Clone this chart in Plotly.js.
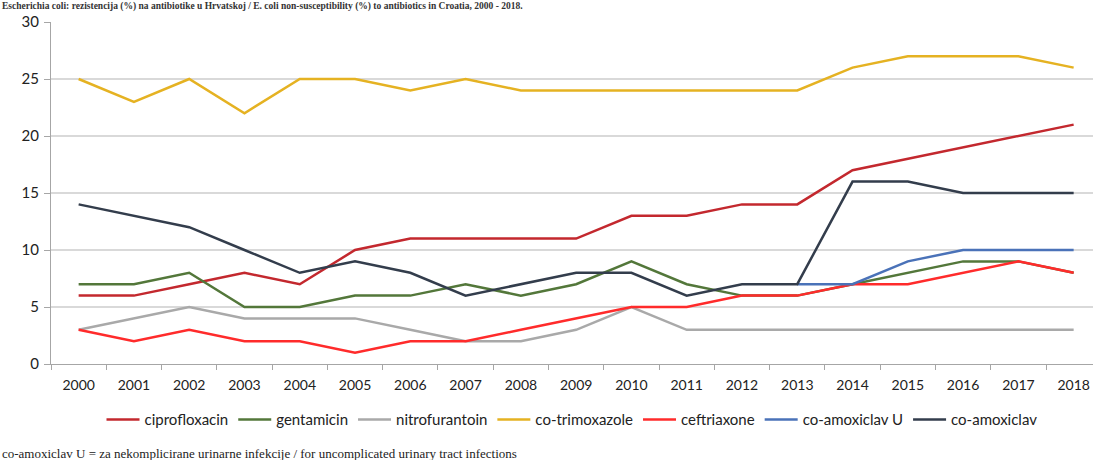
<!DOCTYPE html>
<html>
<head>
<meta charset="utf-8">
<script src="https://cdn.plot.ly/plotly-3.0.1.min.js"></script>
<style>html,body{margin:0;padding:0;background:#fff;}#chart{width:1094px;height:460px;}</style>
</head>
<body>
<div id="chart"></div>
<script>
const years = ["2000","2001","2002","2003","2004","2005","2006","2007","2008","2009","2010","2011","2012","2013","2014","2015","2016","2017","2018"];
const ciprofloxacin = [6,6,7,8,7,10,11,11,11,11,13,13,14,14,17,18,19,20,21];
const gentamicin = [7,7,8,5,5,6,6,7,6,7,9,7,6,6,7,8,9,9,8];
const nitrofurantoin = [3,4,5,4,4,4,3,2,2,3,5,3,3,3,3,3,3,3,3];
const coTrimoxazole = [25,23,25,22,25,25,24,25,24,24,24,24,24,24,26,27,27,27,26];
const ceftriaxone = [3,2,3,2,2,1,2,2,3,4,5,5,6,6,7,7,8,9,8];
const coAmoxiclavU = [null,null,null,null,null,null,null,null,null,null,null,null,null,7,7,9,10,10,10];
const coAmoxiclav = [14,13,12,10,8,9,8,6,7,8,8,6,7,7,16,16,15,15,15];
const seriesNames = ["ciprofloxacin","gentamicin","nitrofurantoin","co-trimoxazole","ceftriaxone","co-amoxiclav U","co-amoxiclav"];
const yTicks = [0,5,10,15,20,25,30];

const seriesData = [ciprofloxacin, gentamicin, nitrofurantoin, coTrimoxazole, ceftriaxone, coAmoxiclavU, coAmoxiclav];
const colors = ["#C3282E","#53773A","#A9A9A9","#E5B222","#FF2B2B","#4A72B8","#333D4C"];

const traces = seriesData.map((d,i)=>({
  x: years, y: d, name: seriesNames[i], type:"scatter", mode:"lines",
  line:{color:colors[i], width:2.5}, connectgaps:false
}));

const layout = {
  width:1094, height:460,
  margin:{l:51, r:1, t:22, b:96},
  paper_bgcolor:"#fff", plot_bgcolor:"#fff",
  font:{family:"Lato, 'Open Sans', sans-serif", size:13, color:"#222"},
  showlegend:true,
  legend:{orientation:"h", x:0.5, xanchor:"center", y:-0.115, yanchor:"top",
          font:{size:15, color:"#222"}, itemwidth:33, tracegroupgap:0},
  xaxis:{type:"category", range:[-0.5,18.35], showgrid:false, showline:true,
         linecolor:"#A6A6A6", linewidth:1, ticks:"outside", tickson:"boundaries",
         ticklen:5, tickcolor:"#A6A6A6", tickfont:{size:14, color:"#222"},
         ticklabelstandoff:8, fixedrange:true},
  yaxis:{range:[0,30], tickvals:yTicks, showgrid:true, gridcolor:"#D9D9D9", gridwidth:1.5,
         showline:true, linecolor:"#A6A6A6", linewidth:1, ticks:"outside", ticklen:6,
         tickcolor:"#A6A6A6", tickfont:{size:15, color:"#222"}, ticklabelstandoff:2,
         zeroline:false, fixedrange:true},
  annotations:[
    {xref:"paper", yref:"paper", x:0, y:1, xanchor:"left", yanchor:"bottom", xshift:-50, yshift:9,
     borderpad:0,
     text:"<b>Escherichia coli: rezistencija (%) na antibiotike u Hrvatskoj / E. coli non-susceptibility (%) to antibiotics in Croatia, 2000 - 2018.</b>",
     showarrow:false, font:{family:"'Liberation Serif', serif", size:9.5, color:"#333"}},
    {xref:"paper", yref:"paper", x:0, y:0, xanchor:"left", yanchor:"top", xshift:-51, yshift:-80,
     text:"co-amoxiclav U = za nekomplicirane urinarne infekcije / for uncomplicated urinary tract infections",
     showarrow:false, font:{family:"'Liberation Serif', serif", size:13, color:"#222"}}
  ]
};
Plotly.newPlot("chart", traces, layout, {displayModeBar:false, staticPlot:true});
</script>
</body>
</html>
